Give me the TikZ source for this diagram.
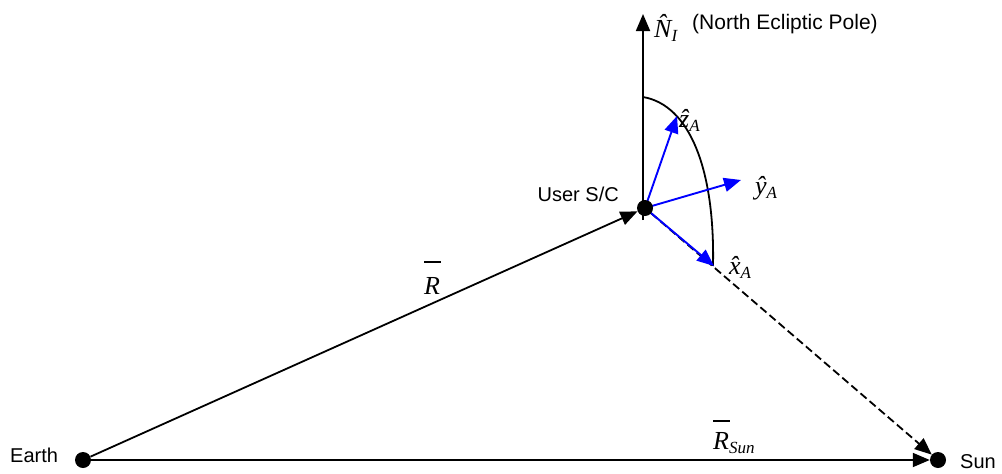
\documentclass[tikz,border=0pt]{standalone}
\usepackage{fontspec}
\setmainfont{Liberation Sans}
\newfontfamily\tms{Liberation Serif}
\usetikzlibrary{arrows.meta}
\pgfdeclarelayer{bg}
\pgfsetlayers{bg,main}
\newcommand\mainv[1]{{\tms\fontsize{26}{29}\selectfont\itshape #1}}
\newcommand\subv[1]{\raisebox{-4pt}{\tms\fontsize{17}{19}\selectfont\itshape #1}}
\newcommand\barv[1]{\rlap{\raisebox{#1}{\rule{17pt}{1.6pt}}}}
\tikzset{
  dot/.style={circle, fill=black, inner sep=0pt, minimum size=16pt},
  lab/.style={inner sep=0pt, font=\fontsize{20}{24}\selectfont},
  vlab/.style={inner sep=0pt},
  blk/.style={line width=1.8pt, -{Triangle[length=17pt,width=14pt]}},
  blu/.style={line width=1.9pt, blue, -{Triangle[length=17pt,width=14pt]}},
  dsh/.style={line width=1.8pt, dash pattern=on 8pt off 4pt, -{Triangle[length=17pt,width=14pt]}},
}
\begin{document}
\begin{tikzpicture}[x=1pt,y=-1pt]
\useasboundingbox (0,0) rectangle (1002,474);
% points
\node[dot] (earth) at (83,460) {};
\node[dot] (sc) at (645,208) {};
\node[dot] (sun) at (938,460) {};
\coordinate (nbase) at (643,220);
\coordinate (ntip) at (643,14);
\coordinate (zA) at (677,116);
\coordinate (yA) at (741,180);
\coordinate (xA) at (714,266);
\coordinate (arcS) at (643,97);
% labels
\node[lab, anchor=base west] (earthlab) at (10,462) {Earth};
\node[lab, anchor=base west] (sunlab) at (960,468) {Sun};
\node[lab, anchor=base east] (sclab) at (619,201) {User S/C};
\node[lab, anchor=base west, font=\fontsize{21}{25}\selectfont] (nep) at (692,29) {(North Ecliptic Pole)};
\node[vlab, anchor=base west] (nlab) at (654,37) {\mainv{\^{N}}\subv{I}};
\node[vlab, anchor=base west] (zlab) at (679,127) {\mainv{\^{z}}\subv{A}};
\node[vlab, anchor=base west] (ylab) at (755,194) {\mainv{\^{y}}\subv{A}};
\node[vlab, anchor=base west] (xlab) at (729,274) {\mainv{\^{x}}\subv{A}};
\node[vlab, anchor=base west] (rlab) at (424,294) {\mainv{\barv{31pt}R}};
\node[vlab, anchor=base west] (rsunlab) at (713,449) {\mainv{\barv{27pt}R}\subv{Sun}};
\begin{pgfonlayer}{bg}
\draw[blk] (earth) -- (sc);
\draw[blk] (earth) -- (sun);
\draw[dsh] (sc) -- (sun);
\draw[blk] (nbase) -- (ntip);
\draw[line width=1.8pt] (arcS) .. controls (690,105) and (715,170) .. (713,266);
\draw[blu] (sc.center) -- (zA);
\draw[blu] (sc.center) -- (yA);
\draw[blu] (sc.center) -- (xA);
\end{pgfonlayer}
\end{tikzpicture}
\end{document}
